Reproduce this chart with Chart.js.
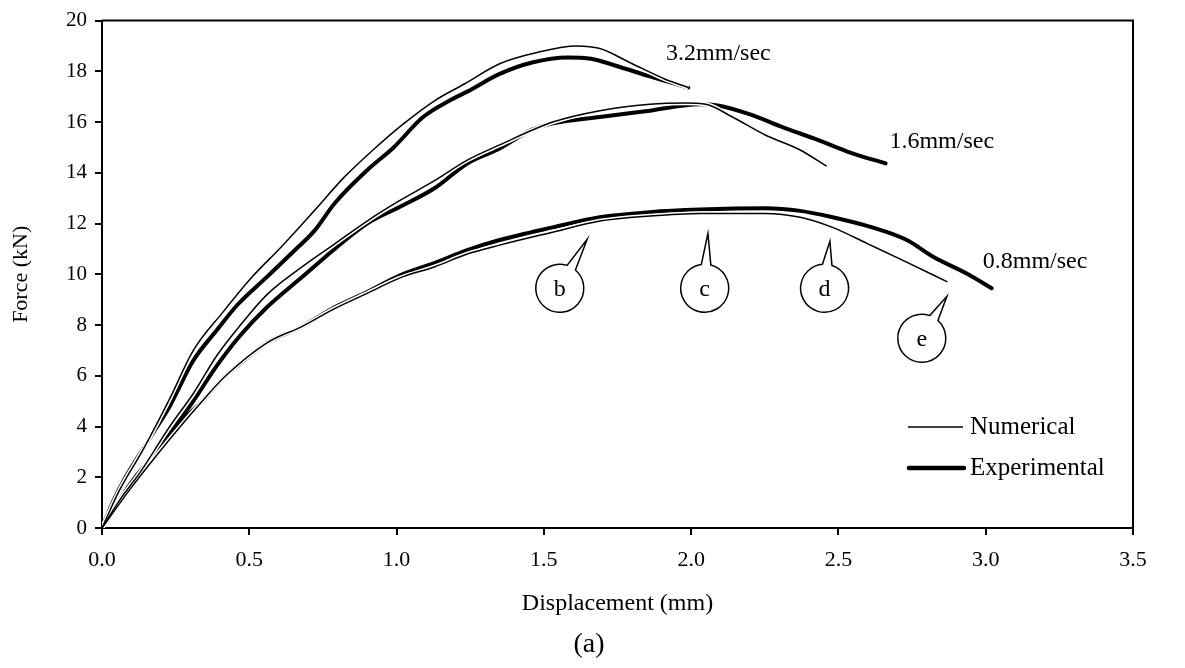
<!DOCTYPE html>
<html>
<head>
<meta charset="utf-8">
<title>Force - Displacement</title>
<script src="https://cdn.jsdelivr.net/npm/chart.js@4.4.1/dist/chart.umd.min.js"></script>
<style>
  body { margin: 0; background: #fff; }
  #wrap { width: 1185px; height: 668px; position: relative; }
</style>
</head>
<body>
<div id="wrap"><canvas id="forceChart"></canvas></div>
<script>
// Axis ticks
const xTicks = [0, 0.5, 1.0, 1.5, 2.0, 2.5, 3.0, 3.5];
const yTicks = [0, 2, 4, 6, 8, 10, 12, 14, 16, 18, 20];

// 3.2 mm/sec
const disp32Num = [0, 0.06, 0.14, 0.23, 0.31, 0.41, 0.51, 0.61, 0.72, 0.82, 0.92, 1.02, 1.13, 1.23, 1.35, 1.48, 1.61, 1.69, 1.80, 1.91, 1.99];
const force32Num = [0, 1.5, 3.1, 5.1, 7.0, 8.5, 9.9, 11.1, 12.5, 13.8, 14.9, 15.9, 16.85, 17.5, 18.3, 18.75, 19.0, 18.9, 18.3, 17.7, 17.36];
const disp32Exp = [0, 0.04, 0.08, 0.16, 0.23, 0.31, 0.39, 0.46, 0.56, 0.65, 0.72, 0.79, 0.90, 0.99, 1.09, 1.18, 1.24, 1.35, 1.46, 1.58, 1.66, 1.75, 1.86, 1.99];
const force32Exp = [0, 1.1, 2.0, 3.5, 4.8, 6.6, 7.8, 8.8, 9.9, 10.9, 11.7, 12.8, 14.1, 15.0, 16.2, 16.85, 17.2, 17.9, 18.35, 18.55, 18.5, 18.2, 17.8, 17.36];

// 1.6 mm/sec
const disp16Num = [0, 0.06, 0.13, 0.23, 0.31, 0.39, 0.47, 0.56, 0.68, 0.79, 0.90, 1.01, 1.13, 1.24, 1.35, 1.53, 1.69, 1.86, 1.98, 2.05, 2.14, 2.25, 2.37, 2.46];
const force16Num = [0, 1.1, 2.2, 4.0, 5.3, 6.8, 8.0, 9.2, 10.3, 11.2, 12.1, 12.9, 13.7, 14.5, 15.1, 16.0, 16.45, 16.7, 16.75, 16.7, 16.2, 15.5, 14.9, 14.26];
const disp16Exp = [0, 0.06, 0.13, 0.23, 0.31, 0.39, 0.47, 0.56, 0.68, 0.79, 0.90, 1.01, 1.13, 1.24, 1.35, 1.46, 1.53, 1.69, 1.86, 2.03, 2.09, 2.20, 2.31, 2.43, 2.54, 2.66];
const force16Exp = [0, 1.0, 2.1, 3.7, 5.0, 6.4, 7.6, 8.7, 9.9, 11.0, 12.0, 12.65, 13.4, 14.37, 14.96, 15.7, 15.95, 16.2, 16.45, 16.7, 16.65, 16.3, 15.8, 15.3, 14.8, 14.37];

// 0.8 mm/sec
const disp08Num = [0, 0.10, 0.23, 0.34, 0.42, 0.56, 0.68, 0.79, 0.90, 1.01, 1.13, 1.24, 1.35, 1.53, 1.69, 1.86, 2.03, 2.25, 2.37, 2.48, 2.60, 2.71, 2.87];
const force08Num = [0, 1.6, 3.5, 5.0, 6.0, 7.3, 7.95, 8.65, 9.25, 9.85, 10.3, 10.8, 11.15, 11.66, 12.1, 12.3, 12.4, 12.4, 12.25, 11.85, 11.2, 10.6, 9.7];
const disp08Exp = [0, 0.10, 0.23, 0.28, 0.34, 0.42, 0.46, 0.56, 0.68, 0.79, 0.90, 1.01, 1.13, 1.24, 1.35, 1.53, 1.69, 1.86, 2.03, 2.25, 2.37, 2.48, 2.60, 2.68, 2.74, 2.82, 2.94, 3.02];
const force08Exp = [0, 1.8, 3.6, 4.3, 5.0, 6.0, 6.4, 7.3, 7.95, 8.7, 9.3, 9.95, 10.45, 10.95, 11.35, 11.85, 12.25, 12.45, 12.55, 12.6, 12.5, 12.25, 11.9, 11.6, 11.3, 10.7, 10.0, 9.45];

// Loading-rate labels (anchored in data units)
const rateNames = ["3.2mm/sec", "1.6mm/sec", "0.8mm/sec"];
const rateX = [1.915, 2.673, 2.99];
const rateY = [18.7, 15.24, 10.5];

// Stage callouts: bubble centre and pointer tip (data units)
const stageNames = ["b", "c", "d", "e"];
const stageX = [1.554, 2.046, 2.453, 2.783];
const stageY = [9.45, 9.45, 9.45, 7.48];
const stageTipX = [1.647, 2.057, 2.471, 2.868];
const stageTipY = [11.38, 11.61, 11.3, 9.13];

const SERIF = '"Liberation Serif", "Times New Roman", serif';

function toPoints(xs, ys) {
    return xs.map((x, i) => ({ x: x, y: ys[i] }));
}

// thin black line for the model, a white halo under it, and a heavy line for the tests
function numericalLine(xs, ys) {
    return {
        data: toPoints(xs, ys), borderColor: "#000", borderWidth: 1.5,
        pointRadius: 0, fill: false, cubicInterpolationMode: "monotone", order: 1
    };
}
function haloLine(xs, ys) {
    return {
        data: toPoints(xs, ys), borderColor: "#fff", borderWidth: 4.5,
        pointRadius: 0, fill: false, cubicInterpolationMode: "monotone", order: 2
    };
}
function experimentalLine(xs, ys) {
    return {
        data: toPoints(xs, ys), borderColor: "#000", borderWidth: 4,
        borderCapStyle: "round", borderJoinStyle: "round",
        pointRadius: 0, fill: false, cubicInterpolationMode: "monotone", order: 3
    };
}

function drawCallout(ctx, cx, cy, tx, ty, letter) {
    const r = 24;
    const a = Math.atan2(ty - cy, tx - cx);
    const half = 0.2;
    ctx.beginPath();
    ctx.arc(cx, cy, r, a + half, a - half + Math.PI * 2);
    ctx.lineTo(tx, ty);
    ctx.closePath();
    ctx.fillStyle = "#fff";
    ctx.fill();
    ctx.lineWidth = 1.5;
    ctx.strokeStyle = "#000";
    ctx.stroke();
    ctx.fillStyle = "#000";
    ctx.font = "24px " + SERIF;
    ctx.textAlign = "center";
    ctx.textBaseline = "middle";
    ctx.fillText(letter, cx, cy + 1);
}

// frame, rate labels, callouts, legend and panel tag
const extrasPlugin = {
    id: "extras",
    afterDatasetsDraw(chart) {
        const ctx = chart.ctx;
        const area = chart.chartArea;
        const xs = chart.scales.x, ys = chart.scales.y;
        ctx.save();

        // top and right edges of the plot frame
        ctx.strokeStyle = "#000";
        ctx.lineWidth = 2;
        ctx.beginPath();
        ctx.moveTo(area.left, area.top);
        ctx.lineTo(area.right, area.top);
        ctx.lineTo(area.right, area.bottom);
        ctx.stroke();

        ctx.fillStyle = "#000";
        ctx.font = "24px " + SERIF;
        ctx.textAlign = "left";
        ctx.textBaseline = "middle";
        rateNames.forEach((name, i) => {
            ctx.fillText(name, xs.getPixelForValue(rateX[i]), ys.getPixelForValue(rateY[i]));
        });

        stageNames.forEach((name, i) => {
            drawCallout(ctx,
                xs.getPixelForValue(stageX[i]), ys.getPixelForValue(stageY[i]),
                xs.getPixelForValue(stageTipX[i]), ys.getPixelForValue(stageTipY[i]),
                name);
        });

        // legend
        const lx = area.right - 225;
        const ly1 = area.bottom - 101;
        const ly2 = area.bottom - 60;
        ctx.strokeStyle = "#000";
        ctx.lineCap = "butt";
        ctx.lineWidth = 1.5;
        ctx.beginPath();
        ctx.moveTo(lx, ly1);
        ctx.lineTo(lx + 55, ly1);
        ctx.stroke();
        ctx.lineCap = "round";
        ctx.lineWidth = 4.5;
        ctx.beginPath();
        ctx.moveTo(lx + 1, ly2);
        ctx.lineTo(lx + 56, ly2);
        ctx.stroke();
        ctx.fillStyle = "#000";
        ctx.font = "25px " + SERIF;
        ctx.textAlign = "left";
        ctx.textBaseline = "middle";
        ctx.fillText("Numerical", lx + 62, ly1);
        ctx.fillText("Experimental", lx + 62, ly2);

        ctx.font = "28px " + SERIF;
        ctx.textAlign = "center";
        ctx.fillText("(a)", 589, 645);
        ctx.restore();
    }
};

const ctx = document.getElementById("forceChart").getContext("2d");
const forceChart = new Chart(ctx, {
    type: "line",
    data: {
        datasets: [
            numericalLine(disp32Num, force32Num),
            numericalLine(disp16Num, force16Num),
            numericalLine(disp08Num, force08Num),
            haloLine(disp32Num, force32Num),
            haloLine(disp16Num, force16Num),
            haloLine(disp08Num, force08Num),
            experimentalLine(disp32Exp, force32Exp),
            experimentalLine(disp16Exp, force16Exp),
            experimentalLine(disp08Exp, force08Exp)
        ]
    },
    options: {
        responsive: true,
        maintainAspectRatio: false,
        animation: false,
        layout: { padding: { top: 20, right: 52, left: 0, bottom: 0 } },
        plugins: { legend: { display: false }, tooltip: { enabled: false } },
        scales: {
            x: {
                type: "linear", min: 0, max: 3.5,
                afterBuildTicks: s => { s.ticks = xTicks.map(v => ({ value: v })); },
                afterFit: s => { s.height = 140; },
                ticks: {
                    color: "#000", padding: 12, maxRotation: 0,
                    font: { family: SERIF, size: 22 },
                    callback: v => Number(v).toFixed(1)
                },
                grid: { drawOnChartArea: false, drawTicks: true, tickLength: 7, color: "#000", lineWidth: 2 },
                border: { display: true, color: "#000", width: 2 },
                title: {
                    display: true, text: "Displacement (mm)", color: "#000",
                    font: { family: SERIF, size: 24 }, padding: { top: 0, bottom: 50 }
                }
            },
            y: {
                type: "linear", min: 0, max: 20,
                afterBuildTicks: s => { s.ticks = yTicks.map(v => ({ value: v })); },
                afterFit: s => { s.width = 102; },
                ticks: { color: "#000", padding: 8, font: { family: SERIF, size: 21 } },
                grid: { drawOnChartArea: false, drawTicks: true, tickLength: 7, color: "#000", lineWidth: 2 },
                border: { display: true, color: "#000", width: 2 },
                title: {
                    display: true, text: "Force (kN)", color: "#000",
                    font: { family: SERIF, size: 22 }, padding: { top: 8, bottom: 0 }
                }
            }
        }
    },
    plugins: [extrasPlugin]
});
</script>
</body>
</html>
